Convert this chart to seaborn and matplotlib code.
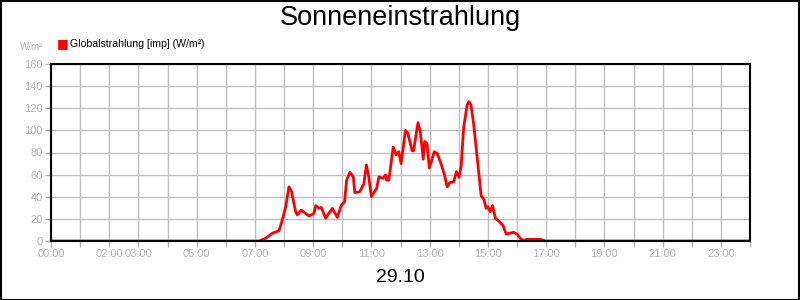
import matplotlib
matplotlib.use("Agg")
import matplotlib.pyplot as plt
import seaborn as sns
import pandas as pd

# ---- data ----
hours = [0.0, 7.0, 7.14, 7.37, 7.6, 7.83, 7.94, 8.06, 8.17, 8.26, 8.4, 8.46, 8.59, 8.86,
         9.03, 9.09, 9.2, 9.28, 9.43, 9.54, 9.66, 9.83, 9.97, 10.08, 10.15, 10.26,
         10.38, 10.43, 10.6, 10.74, 10.83, 10.91, 11.0, 11.18, 11.26, 11.4, 11.49,
         11.52, 11.6, 11.75, 11.85, 11.94, 12.02, 12.17, 12.25, 12.4, 12.45, 12.6,
         12.68, 12.78, 12.83, 12.91, 12.99, 13.16, 13.26, 13.39, 13.51, 13.6, 13.69,
         13.83, 13.92, 14.01, 14.08, 14.17, 14.29, 14.35, 14.42, 14.51, 14.63, 14.77,
         14.86, 14.94, 15.0, 15.08, 15.16, 15.26, 15.4, 15.52, 15.63, 15.75, 15.88,
         16.0, 16.11, 16.23, 16.34, 16.8, 16.97, 24.0]
values = [0, 0, 0, 2.4, 7, 9.3, 19, 31, 49, 44.6, 26.5, 23.5, 28, 22.6,
          25, 32, 29.5, 30.4, 20.5, 25, 29.5, 21.4, 32.5, 35.5, 55, 62,
          58, 43.7, 44.6, 51.5, 68.7, 58, 40, 47.6, 58, 56.7, 59.7,
          55, 55, 85, 77.8, 80.7, 70, 100, 97.4, 81.6, 81.6, 107,
          99, 74, 90, 88, 66, 80.7, 79, 70, 59.7, 49, 52.7,
          53.6, 62.7, 57.6, 67, 103, 123, 126, 123, 106, 76, 40.7,
          37.7, 29.5, 31, 26.5, 32, 20.5, 17.5, 13.9, 6.3, 7, 7.9,
          6.3, 2.4, 0.3, 1.5, 1.5, 0, 0]
tick_hours = list(range(25))
tick_labels = {0: "00:00", 2: "02:00", 3: "03:00", 5: "05:00", 7: "07:00", 9: "09:00",
               11: "11:00", 13: "13:00", 15: "15:00", 17: "17:00", 19: "19:00",
               21: "21:00", 23: "23:00"}
series_name = "Globalstrahlung [imp] (W/m²)"
title = "Sonneneinstrahlung"
date_label = "29.10"
unit = "W/m²"

df = pd.DataFrame({"hour": hours, "value": values})

sns.set_theme(style="white")
plt.rcParams["font.family"] = ["Liberation Sans", "DejaVu Sans"]

fig = plt.figure(figsize=(8, 3), dpi=100)
ax = fig.add_axes([51 / 800, 1 - 241 / 300, 699 / 800, 177 / 300])

sns.lineplot(data=df, x="hour", y="value", ax=ax, color="#ff0000", linewidth=2,
             legend=False)

ax.set_xlim(0, 24)
ax.set_ylim(0, 160)
ax.set_xticks(tick_hours)
ax.set_xticklabels([tick_labels.get(h, "") for h in tick_hours])
ax.set_yticks(range(0, 161, 20))
ax.grid(True, color="#c0c0c0", linewidth=1)
ax.set_axisbelow(True)
gray = "#b4b4b4"
ax.tick_params(axis="both", which="major", direction="out", length=4.5, width=1,
               color=gray, labelcolor=gray, labelsize=8, pad=1.5,
               bottom=True, left=True)
for s in ax.spines.values():
    s.set_color("black")
    s.set_linewidth(1.5)
ax.set_xlabel(date_label, fontsize=14, color="black", labelpad=7)
ax.set_ylabel("")

fig.text(0.5, 1 - 18 / 300, title, ha="center", va="center", fontsize=19.5, color="black")
fig.text(43 / 800, 1 - 47 / 300, unit, ha="right", va="center", fontsize=7, color=gray)
fig.text(63 / 800, 1 - 44 / 300, "■", ha="center", va="center", fontsize=9,
         color="#ff0000", family=["DejaVu Sans"])
fig.text(70 / 800, 1 - 44 / 300, series_name, ha="left", va="center", fontsize=7.6,
         color="black")

fig.add_artist(plt.Rectangle((0.5 / 800, 0.5 / 300), 798.5 / 800, 298.5 / 300,
                             transform=fig.transFigure, fill=False,
                             edgecolor="black", linewidth=1.5))

fig.savefig("out.png", dpi=100)
